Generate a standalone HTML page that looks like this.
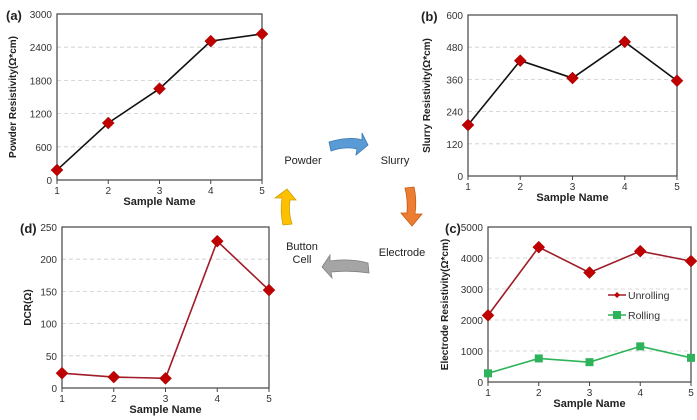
<!DOCTYPE html>
<html><head><meta charset="utf-8"><style>
html,body{margin:0;padding:0;background:#fff;}
svg{display:block;font-family:"Liberation Sans",sans-serif;}
</style></head><body>
<svg id="s" width="697" height="420" viewBox="0 0 697 420" xmlns="http://www.w3.org/2000/svg">
<!-- middle flow -->
<text x="303" y="164" font-size="11" fill="#222" text-anchor="middle">Powder</text>
<text x="395" y="164" font-size="11" fill="#222" text-anchor="middle">Slurry</text>
<text x="402" y="256" font-size="11" fill="#222" text-anchor="middle">Electrode</text>
<text x="302" y="250" font-size="11" fill="#222" text-anchor="middle">Button</text>
<text x="302" y="263" font-size="11" fill="#222" text-anchor="middle">Cell</text>
<path d="M329,142 Q350,136 362,140 L362,133 L368,145 L356,155 L357,149 Q345,146 331,151 Z" fill="#5b9bd5" stroke="#3a78b5" stroke-width="0.8"/>
<path d="M405,188 L414,187 Q417,200 415,214 L422,214 L412,226 L401,213 L407,213 Q408,200 405,188 Z" fill="#ed7d31" stroke="#c55a11" stroke-width="0.8"/>
<path d="M368,263 Q350,258 330,261 L330,255 L322,267 L332,278 L331,272 Q350,270 369,273 Z" fill="#a5a5a5" stroke="#808080" stroke-width="0.8"/>
<path d="M283,225 Q280,212 282,198 L275,198 L287,189 L296,200 L290,200 Q288,212 292,224 Z" fill="#ffc000" stroke="#c9a000" stroke-width="0.8"/>
</svg>
<script>
var s=document.getElementById('s'),h='';
function chart(o){
 var L=o.l,R=o.r,T=o.t,B=o.b;
 function X(i){return L+(R-L)*i/4}
 function Y(v){return B-(B-T)*v/o.max}
 for(var k=1;k<o.n;k++){var y=Y(o.max*k/o.n);h+='<line x1="'+L+'" x2="'+R+'" y1="'+y+'" y2="'+y+'" stroke="#ccc" stroke-dasharray="4,3" stroke-width="0.8"/>';}
 h+='<rect x="'+L+'" y="'+T+'" width="'+(R-L)+'" height="'+(B-T)+'" fill="none" stroke="#444" stroke-width="1.2"/>';
 for(var k=0;k<=o.n;k++){var v=o.max*k/o.n,y=Y(v);h+='<text x="'+(L-5)+'" y="'+(y+4)+'" font-size="10" fill="#333" text-anchor="end">'+v+'</text>';}
 for(var i=0;i<5;i++){h+='<line x1="'+X(i)+'" x2="'+X(i)+'" y1="'+B+'" y2="'+(B+4)+'" stroke="#444"/><text x="'+X(i)+'" y="'+(B+14)+'" font-size="10" fill="#333" text-anchor="middle">'+(i+1)+'</text>';}
 h+='<text x="'+((L+R)/2)+'" y="'+(B+25)+'" font-size="11" font-weight="bold" fill="#222" text-anchor="middle">Sample Name</text>';
 var cx=o.yl,cy=(T+B)/2;
 h+='<text transform="translate('+cx+','+cy+') rotate(-90)" font-size="10" font-weight="bold" fill="#222" text-anchor="middle">'+o.ylab+'</text>';
 h+='<text x="'+o.lx+'" y="'+(T+6)+'" font-size="13" font-weight="bold" fill="#222">'+o.tag+'</text>';
 o.series.forEach(function(sr){
  var p=sr.d.map(function(v,i){return X(i)+','+Y(v)}).join(' ');
  h+='<polyline points="'+p+'" fill="none" stroke="'+sr.c+'" stroke-width="1.6"/>';
  sr.d.forEach(function(v,i){var x=X(i),y=Y(v);
   if(sr.sq)h+='<rect x="'+(x-4)+'" y="'+(y-4)+'" width="8" height="8" fill="#2eb35a"/>';
   else h+='<polygon points="'+x+','+(y-6)+' '+(x+6)+','+y+' '+x+','+(y+6)+' '+(x-6)+','+y+'" fill="#c00000" stroke="#900" stroke-width="0.5"/>';});
 });
}
chart({l:57,r:262,t:14,b:180,max:3000,n:5,ylab:'Powder Resistivity(Ω*cm)',yl:16,lx:6,tag:'(a)',series:[{c:'#111',d:[180,1030,1650,2510,2640]}]});
chart({l:468,r:677,t:15,b:176,max:600,n:5,ylab:'Slurry Resistivity(Ω*cm)',yl:430,lx:421,tag:'(b)',series:[{c:'#111',d:[190,430,365,500,355]}]});
chart({l:488,r:691,t:227,b:382,max:5000,n:5,ylab:'Electrode Resistivity(Ω*cm)',yl:448,lx:445,tag:'(c)',series:[{c:'#a01c28',d:[2150,4350,3530,4220,3900]},{c:'#2eb35a',sq:1,d:[280,760,640,1150,780]}]});
chart({l:62,r:269,t:227,b:388,max:250,n:5,ylab:'DCR(Ω)',yl:31,lx:20,tag:'(d)',series:[{c:'#a01c28',d:[23,17,15,228,152]}]});
h+='<line x1="608" x2="626" y1="295" y2="295" stroke="#a01c28" stroke-width="1.6"/><polygon points="617,292 620,295 617,298 614,295" fill="#c00000"/><text x="628" y="299" font-size="10.5" fill="#333">Unrolling</text>';
h+='<line x1="608" x2="626" y1="315" y2="315" stroke="#2eb35a" stroke-width="1.6"/><rect x="613" y="311" width="8" height="8" fill="#2eb35a"/><text x="628" y="319" font-size="10.5" fill="#333">Rolling</text>';
s.insertAdjacentHTML('beforeend',h);
</script>
</body></html>
